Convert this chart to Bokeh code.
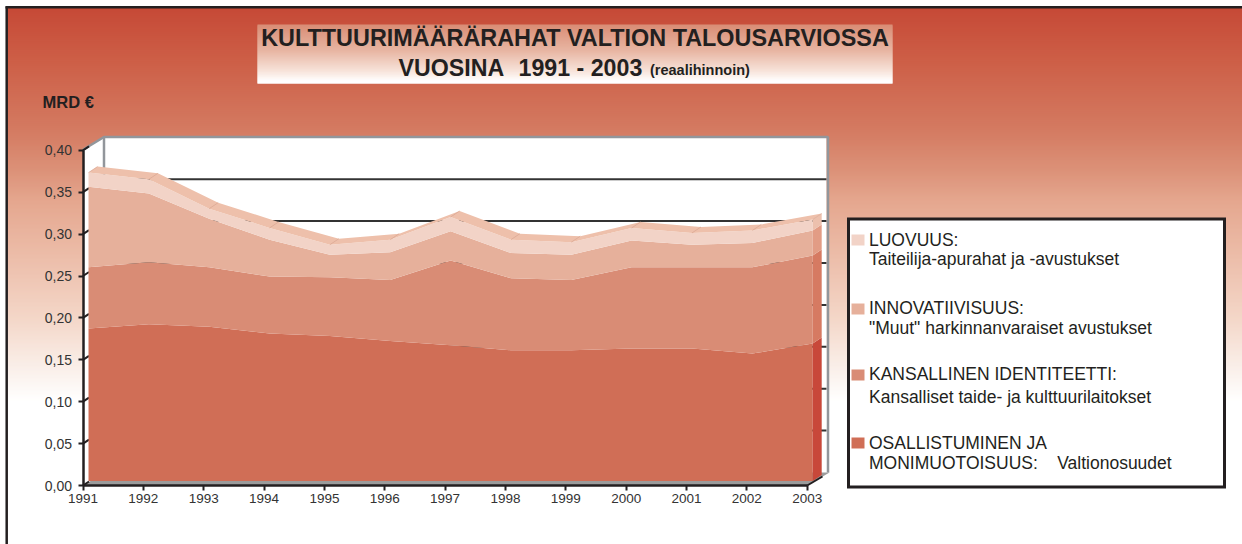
from bokeh.plotting import figure
from bokeh.models import Range1d, LinearAxis, FixedTicker
from bokeh.core.properties import value
from bokeh.embed import file_html
from bokeh.resources import INLINE
import numpy as np

years = [1991, 1992, 1993, 1994, 1995, 1996, 1997, 1998, 1999, 2000, 2001, 2002, 2003]
osallistuminen = [.182, .187, .184, .176, .173, .167, .162, .156, .156, .158, .158, .152, .164]
kansallinen = [.073, .074, .071, .068, .070, .073, .101, .086, .084, .097, .097, .103, .105]
innovatiivisuus = [.096, .082, .058, .044, .027, .033, .035, .030, .030, .032, .027, .029, .030]
luovuus = [.017, .017, .012, .014, .012, .015, .017, .016, .015, .015, .014, .015, .013]
y_ticks = [0.0, 0.05, 0.10, 0.15, 0.20, 0.25, 0.30, 0.35, 0.40]
y_labels = ["0,00", "0,05", "0,10", "0,15", "0,20", "0,25", "0,30", "0,35", "0,40"]

FONT = "Liberation Sans"
INK = "#231f20"
W, H = 1242, 544
XS, YS = 60.35, 838.0          # pixels per year / per unit
X0, Y0 = 82.5, 485.0           # picture pixel of 1991 / of 0

x_start = years[0] - X0 / XS
x_end = years[0] + (W - X0) / XS
y_end = Y0 / YS
y_start = (Y0 - H) / YS

p = figure(width=W, height=H, output_backend="svg", toolbar_location=None,
           x_range=Range1d(x_start, x_end), y_range=Range1d(y_start, y_end),
           x_axis_type=None, y_axis_type=None, min_border=0,
           outline_line_color=None, background_fill_color="white", border_fill_color="white")


def PX(px):
    return years[0] + (np.asarray(px, dtype=float) - X0) / XS


def PY(py):
    return (Y0 - np.asarray(py, dtype=float)) / YS


def lerp_stops(stops, y):
    ys = [s[0] for s in stops]
    cols = [np.interp(y, ys, [s[1][k] for s in stops]) for k in range(3)]
    return "#%02x%02x%02x" % tuple(int(round(c)) for c in cols)


def rgb(h):
    return (int(h[1:3], 16), int(h[3:5], 16), int(h[5:7], 16))


# page background gradient: each strip overlaps the next so no seams show
bg_stops = [(8, rgb("#c64a37")), (60, rgb("#cd5f47")), (130, rgb("#d47b62")), (170, rgb("#dc9279")),
            (200, rgb("#e5a78f")), (270, rgb("#eec3b0")), (320, rgb("#f4d8ca")), (360, rgb("#f9ece5")),
            (400, rgb("#ffffff"))]
rows = np.arange(7, 402, 2)
p.quad(left=PX(7), right=PX(W), top=PY(rows), bottom=PY(rows + 4),
       fill_color=[lerp_stops(bg_stops, r) for r in rows], line_color=None)

# frame of the page
p.segment(PX([6.2, 5]), PY([6, 6.8]), PX([6.2, W]), PY([H, 6.8]), line_color=INK, line_width=2.5)

# title box gradient
box_stops = [(24, rgb("#d98d76")), (50, rgb("#e8b6a3")), (70, rgb("#f7e3da")), (80, rgb("#ffffff"))]
box_rows = np.arange(24, 83, 1)
p.quad(left=PX(257), right=PX(892), top=PY(box_rows), bottom=PY(np.minimum(box_rows + 2, 83)),
       fill_color=[lerp_stops(box_stops, r) for r in box_rows], line_color=None)

# 3D box: side wall, back wall, floor
BX, BY = 21.0, -13.0
p.patch(PX([X0, X0 + BX, 826, 826, X0 + BX, X0]),
        PY([149.8, 136.8, 136.8, 472, 472, Y0]), fill_color="white", line_color=None)
p.patch(PX([X0, X0 + BX + 1, 829, 806.7]), PY([Y0, 472, 472, Y0]), fill_color="#9b9b9b", line_color=None)

# back wall gridlines
grid_y = PY(Y0 - YS * np.array(y_ticks[1:-1]) + BY)
p.segment([PX(X0 + BX)] * len(grid_y), grid_y, [PX(826)] * len(grid_y), grid_y, line_color="#333333", line_width=2)

# wall frame
wall = "#92969b"
p.line(PX([X0, X0 + BX, 827.5, 827.5]), PY([149.2, 136.5, 136.5, 472]), line_color=wall, line_width=2.5)
p.line(PX([X0 + BX, X0 + BX]), PY([136.5, 175]), line_color=wall, line_width=2.5)

# axis stubs running back from the ticks
tick_px = Y0 - YS * np.array(y_ticks)
p.segment([PX(X0)] * len(tick_px), PY(tick_px), [PX(X0 + 6)] * len(tick_px), PY(tick_px - 4),
          line_color=INK, line_width=2)

# stacked areas
DX, DY = 5.5 / XS, 4.5 / YS              # front plane offset
BDX, BDY = 9.0 / XS, 6.0 / YS            # depth of the band
xf = np.array(years, dtype=float) + DX
layers = [osallistuminen, kansallinen, innovatiivisuus, luovuus]
tops = np.cumsum(np.array(layers), axis=0)
fills = ["#d06e56", "#d98c75", "#e6b09b", "#f2d3c7"]
sides = ["#c8483a", "#d67a62", "#e29c85", "#ecc0ad"]
lower = np.zeros(len(years))
for t, f, s in zip(tops, fills, sides):
    p.varea(xf, lower + DY, t + DY, fill_color=f)
    xr = xf[-1]
    p.patch([xr, xr + BDX, xr + BDX, xr],
            [lower[-1] + DY, lower[-1] + DY + BDY, t[-1] + DY + BDY, t[-1] + DY],
            fill_color=s, line_color=None)
    lower = t

top = tops[-1]
p.patch(np.concatenate([xf, (xf + BDX)[::-1]]),
        np.concatenate([top + DY, (top + DY + BDY)[::-1]]), fill_color="#eec0ab", line_color=None)
p.segment(xf, top + DY, xf + BDX, top + DY + BDY, line_color="#d9a591", line_width=0.7)

# real axes placed at the front of the box
ax_y = LinearAxis(fixed_location=years[0], ticker=FixedTicker(ticks=y_ticks),
                  major_label_overrides=dict(zip(y_ticks, y_labels)), bounds=(0, 0.4))
ax_y.major_tick_out = 5
ax_y.major_tick_in = 0
ax_y.minor_tick_out = 0
ax_y.minor_tick_in = 0
ax_y.major_tick_line_width = 2
ax_y.major_tick_line_color = INK
ax_y.axis_line_width = 2.5
ax_y.axis_line_color = INK
ax_y.major_label_standoff = 6
ax_y.major_label_text_font = FONT
ax_y.major_label_text_font_size = "14px"
ax_y.major_label_text_color = "#333333"
p.add_layout(ax_y, "left")

ax_x = LinearAxis(fixed_location=0, ticker=FixedTicker(ticks=years),
                  major_label_overrides={y: str(y) for y in years}, bounds=(years[0], years[-1]))
ax_x.major_tick_out = 5
ax_x.major_tick_in = 0
ax_x.minor_tick_out = 0
ax_x.minor_tick_in = 0
ax_x.major_tick_line_width = 2
ax_x.major_tick_line_color = INK
ax_x.axis_line_width = 2.5
ax_x.axis_line_color = INK
ax_x.major_label_standoff = 3
ax_x.major_label_text_font = FONT
ax_x.major_label_text_font_size = "13.5px"
ax_x.major_label_text_color = "#333333"
p.add_layout(ax_x, "below")
p.segment(PX(806.7), PY(Y0), PX(822), PY(476), line_color=INK, line_width=2)

# legend box
p.quad(left=PX(848), right=PX(1224), top=PY(218.5), bottom=PY(486.5), fill_color="white",
       line_color=INK, line_width=3, line_join="miter")
swatch_y = [234, 303, 369, 437]
p.quad(left=PX(851), right=PX(864), top=PY(swatch_y), bottom=PY(np.array(swatch_y) + 11),
       fill_color=fills[::-1], line_color=None)


def txt(x, y, s, size, bold=False, color=INK, align="left"):
    p.text([PX(x)], [PY(y)], text=[s], text_font=value(FONT), text_font_size=f"{size}px",
           text_font_style="bold" if bold else "normal", text_color=color,
           text_align=align, text_baseline="middle")


txt(574.5, 37, "KULTTUURIMÄÄRÄRAHAT VALTION TALOUSARVIOSSA", 23.4, True, align="center")
txt(398, 67.5, "VUOSINA", 23.2, True)
txt(518, 67.5, "1991 - 2003", 23.2, True)
txt(649.5, 69.5, "(reaalihinnoin)", 14.5, True)
txt(42, 101.5, "MRD €", 16.5, True)

for yy, s in [(239, "LUOVUUS:"), (258.5, "Taiteilija-apurahat ja -avustukset"),
              (307.5, "INNOVATIIVISUUS:"), (327.5, '"Muut" harkinnanvaraiset avustukset'),
              (373.5, "KANSALLINEN IDENTITEETTI:"), (396.5, "Kansalliset taide- ja kulttuurilaitokset"),
              (442.5, "OSALLISTUMINEN JA"), (462.5, "MONIMUOTOISUUS:")]:
    txt(868.5, yy, s, 17.5)
txt(1056.7, 462.5, "Valtionosuudet", 17.5)

open("out.html", "w").write(file_html(p, INLINE))
